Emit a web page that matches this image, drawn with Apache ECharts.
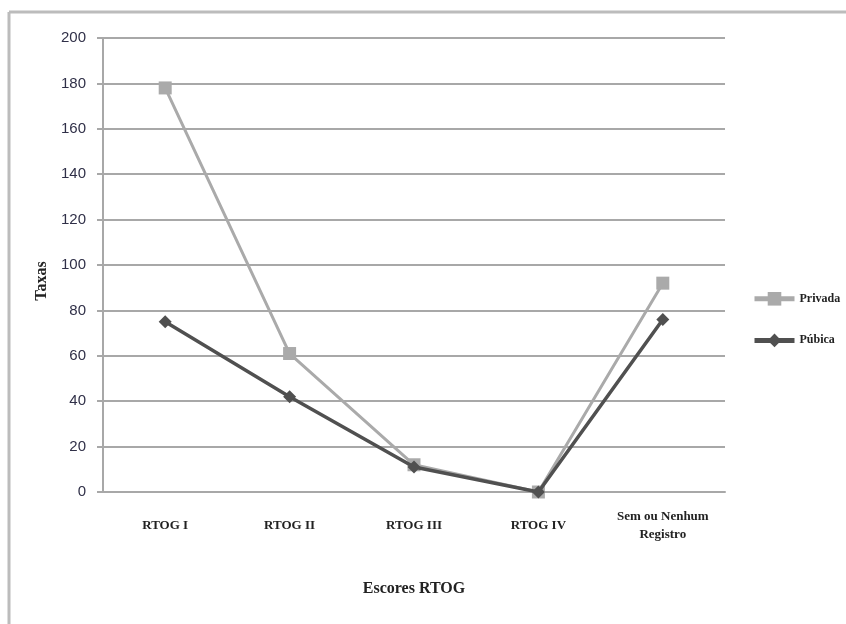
<!DOCTYPE html>
<html>
<head>
<meta charset="utf-8">
<script src="https://cdn.jsdelivr.net/npm/echarts@6/dist/echarts.min.js"></script>
<style>
  html, body { margin: 0; padding: 0; background: #fff; }
  #chart { width: 846px; height: 624px; }
</style>
</head>
<body>
<div id="chart"></div>
<script>
// Categories and series values
const categories = ['RTOG I', 'RTOG II', 'RTOG III', 'RTOG IV', 'Sem ou Nenhum\nRegistro'];
const privada = [178, 61, 12, 0, 92];
const publica = [75, 42, 11, 0, 76];
const seriesNames = ['Privada', 'Púbica'];

const serif = '"Liberation Serif", "DejaVu Serif", serif';
const sans = '"Liberation Sans", "DejaVu Sans", sans-serif';

const chart = echarts.init(document.getElementById('chart'), null, { renderer: 'canvas' });

chart.setOption({
  backgroundColor: '#ffffff',
  animation: false,
  // outer frame: top and left edges only
  graphic: [
    {
      type: 'line',
      shape: { x1: 9, y1: 12, x2: 846, y2: 12 },
      style: { stroke: '#bcbcbc', lineWidth: 3 },
      silent: true
    },
    {
      type: 'line',
      shape: { x1: 9, y1: 12, x2: 9, y2: 624 },
      style: { stroke: '#bcbcbc', lineWidth: 3 },
      silent: true
    }
  ],
  grid: { left: 103, right: 121, top: 38, bottom: 132 },
  legend: {
    orient: 'vertical',
    left: 747,
    top: 287,
    itemWidth: 40,
    itemHeight: 17,
    itemGap: 28,
    data: seriesNames,
    lineStyle: { width: 5 },
    textStyle: { fontFamily: serif, fontWeight: 'bold', fontSize: 12, color: '#222' }
  },
  xAxis: {
    type: 'category',
    data: categories,
    boundaryGap: true,
    name: 'Escores RTOG',
    nameLocation: 'middle',
    nameGap: 89,
    nameTextStyle: { fontFamily: serif, fontWeight: 'bold', fontSize: 16, color: '#222' },
    axisLine: { lineStyle: { color: '#a8a8a8', width: 2 } },
    axisTick: { show: false },
    axisLabel: {
      interval: 0,
      margin: 34,
      verticalAlign: 'middle',
      fontFamily: serif,
      fontWeight: 'bold',
      fontSize: 13,
      lineHeight: 18,
      color: '#222'
    }
  },
  yAxis: {
    type: 'value',
    min: 0,
    max: 200,
    interval: 20,
    name: 'Taxas',
    nameLocation: 'middle',
    nameGap: 52,
    nameRotate: 90,
    nameTextStyle: {
      fontFamily: serif, fontWeight: 'bold', fontSize: 16, color: '#222',
      padding: [0, 32, 0, 0]
    },
    axisLine: { show: true, lineStyle: { color: '#a8a8a8', width: 2 } },
    axisTick: { show: true, length: 6, lineStyle: { color: '#a8a8a8', width: 2 } },
    splitLine: { lineStyle: { color: '#a8a8a8', width: 2 } },
    axisLabel: { margin: 17, fontFamily: sans, fontSize: 15, color: '#303048' }
  },
  series: [
    {
      name: seriesNames[0],
      type: 'line',
      data: privada,
      symbol: 'rect',
      symbolSize: 13,
      z: 2,
      itemStyle: { color: '#aaaaaa' },
      lineStyle: { color: '#aaaaaa', width: 3 }
    },
    {
      name: seriesNames[1],
      type: 'line',
      data: publica,
      symbol: 'diamond',
      symbolSize: 13,
      z: 3,
      itemStyle: { color: '#505050' },
      lineStyle: { color: '#505050', width: 3.5 }
    }
  ]
});
</script>
</body>
</html>
